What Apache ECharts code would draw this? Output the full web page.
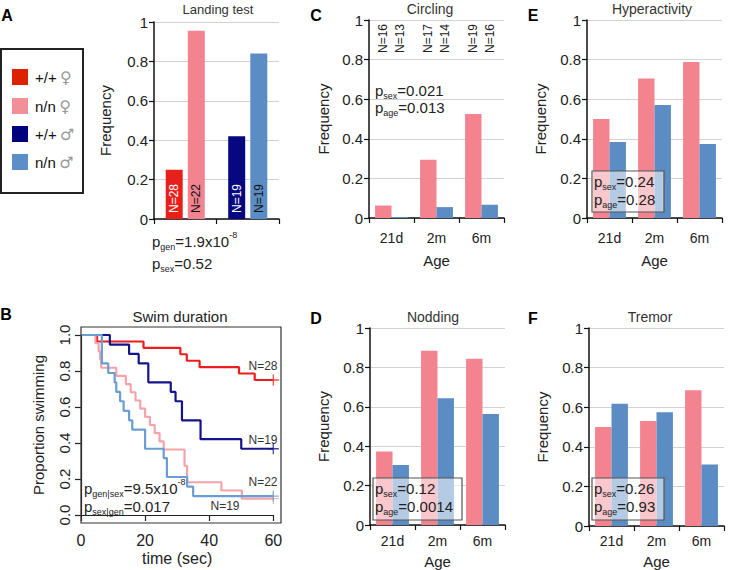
<!DOCTYPE html>
<html><head><meta charset="utf-8">
<script src="https://cdn.jsdelivr.net/npm/echarts@6/dist/echarts.min.js"></script>
<style>html,body{margin:0;padding:0;background:#fff;}#c{width:731px;height:570px;}</style>
</head><body><div id="c"></div>
<script>
// ---------- data ----------
const landingGroups = ['female', 'male'];
const landingWT = [0.25, 0.42];
const landingNN = [0.955, 0.84];
const landingNwt = ['N=28', 'N=19'];
const landingNnn = ['N=22', 'N=19'];

const ages = ['21d', '2m', '6m'];
const circlingFemale = [0.063, 0.294, 0.525];
const circlingMale = [0.005, 0.055, 0.067];
const circlingNFemale = ['N=16', 'N=17', 'N=19'];
const circlingNMale = ['N=13', 'N=14', 'N=16'];
const noddingFemale = [0.373, 0.885, 0.844];
const noddingMale = [0.305, 0.644, 0.563];
const hyperFemale = [0.5, 0.705, 0.788];
const hyperMale = [0.384, 0.571, 0.374];
const tremorFemale = [0.5, 0.53, 0.686];
const tremorMale = [0.618, 0.574, 0.31];

const swimWTfemale = [[0,1],[5,0.964],[19.5,0.929],[31,0.893],[33,0.857],[37,0.821],[49.3,0.786],[54.2,0.75],[60,0.75]];
const swimWTmale = [[0,1],[9,0.947],[15,0.895],[18,0.842],[21,0.737],[28,0.684],[29.5,0.632],[31.5,0.526],[37.3,0.421],[50,0.368],[60,0.368]];
const swimNNfemale = [[0,1],[4.5,0.955],[5.5,0.909],[6,0.864],[6.3,0.818],[11,0.773],[14,0.727],[15.5,0.682],[17,0.636],[18.5,0.591],[20,0.545],[21.5,0.5],[23,0.455],[24.5,0.409],[25.8,0.364],[32.3,0.273],[33.1,0.182],[43.8,0.136],[50.2,0.091],[60,0.091]];
const swimNNmale = [[0,1],[6.5,0.842],[8.5,0.789],[10.5,0.737],[11,0.684],[12.2,0.632],[13.3,0.579],[15,0.526],[16,0.474],[20,0.368],[25.8,0.316],[26.8,0.211],[33.1,0.158],[35,0.105],[60,0.105]];
const swimEndLabels = ['N=28', 'N=19', 'N=22', 'N=19'];

// ---------- styles ----------
const FONT = 'Liberation Sans, Arial, sans-serif';
const C_RED = '#e8201c', C_PINK = '#f2838f', C_NAVY = '#07077f', C_BLUE = '#5b8cc4';
const L_RED = '#ee1c1c', L_NAVY = '#14148a', L_PINK = '#f4a3ab', L_BLUE = '#6a9dd2';

const chart = echarts.init(document.getElementById('c'), null, {renderer: 'svg'});

function yFreq(grid, gap) {
  return {
    type: 'value', gridIndex: grid, min: 0, max: 1, interval: 0.2,
    axisLine: {show: true, lineStyle: {color: '#111', width: 1.5}},
    axisTick: {show: true, length: 5, lineStyle: {color: '#111', width: 1.2}},
    axisLabel: {fontSize: 15, color: '#222', margin: 6, fontFamily: FONT},
    splitLine: {show: true, lineStyle: {color: '#d2d2d2', width: 1}},
    name: 'Frequency', nameLocation: 'middle', nameGap: gap,
    nameTextStyle: {fontSize: 15, color: '#222', fontFamily: FONT}
  };
}
function xAge(grid, margin, gap) {
  return {
    type: 'category', gridIndex: grid, data: ages,
    axisLine: {show: true, lineStyle: {color: '#111', width: 1.5}},
    axisTick: {show: true, length: 5, lineStyle: {color: '#111', width: 1.2}},
    axisLabel: {fontSize: 14, color: '#222', margin: margin, fontFamily: FONT},
    splitLine: {show: false},
    name: 'Age', nameLocation: 'middle', nameGap: gap,
    nameTextStyle: {fontSize: 15, color: '#222', fontFamily: FONT}
  };
}
function barPair(axis, fem, mal, topLabels) {
  const base = {type: 'bar', xAxisIndex: axis, yAxisIndex: axis, barGap: 0, barCategoryGap: '27%'};
  const s1 = Object.assign({}, base, {name: 'nn_f_' + axis, data: fem, itemStyle: {color: C_PINK}});
  const s2 = Object.assign({}, base, {name: 'nn_m_' + axis, data: mal, itemStyle: {color: C_BLUE}});
  if (topLabels) {
    const lab = (arr) => ({
      show: true, rotate: 90, fontSize: 12, color: '#222', fontFamily: FONT,
      formatter: (p) => arr[p.dataIndex]
    });
    const lay = (p) => ({x: p.rect.x + p.rect.width / 2, y: 24, align: 'right', verticalAlign: 'middle'});
    s1.label = lab(topLabels[0]); s1.labelLayout = lay;
    s2.label = lab(topLabels[1]); s2.labelLayout = lay;
  }
  return [s1, s2];
}

function ptext(x, y, sub, rest, size, sup) {
  const fs = size || 14;
  let t = '{m|p}{s|' + sub + '}{m|' + rest + '}';
  if (sup) t += '{u|' + sup + '}';
  return {
    type: 'text', x: x, y: y, z: 110,
    style: {
      text: t, verticalAlign: 'middle', textVerticalAlign: 'middle', fill: '#222',
      rich: {
        m: {fontSize: fs, fontFamily: FONT, fill: '#222', lineHeight: fs + 6, verticalAlign: 'middle'},
        s: {fontSize: 9, fontFamily: FONT, fill: '#222', verticalAlign: 'bottom', lineHeight: fs + 6},
        u: {fontSize: 9, fontFamily: FONT, fill: '#222', verticalAlign: 'top', lineHeight: fs + 4}
      }
    }
  };
}
function txt(x, y, s, size, opts) {
  return {
    type: 'text', x: x, y: y, z: 110,
    style: Object.assign({text: s, fontSize: size, fontFamily: FONT, fill: '#222',
      align: 'center', textAlign: 'center', verticalAlign: 'middle', textVerticalAlign: 'middle'}, opts || {})
  };
}
function pbox(x, y, w, h) {
  return {type: 'rect', z: 100, shape: {x: x, y: y, width: w, height: h},
    style: {fill: 'rgba(255,255,255,0.55)', stroke: '#555', lineWidth: 1.2}};
}

const option = {
  backgroundColor: '#fff',
  animation: false,
  grid: [
    {left: 154, top: 22, width: 125, height: 197, containLabel: false, outerBoundsMode: 'none'},
    {left: 81, top: 335, width: 192.3, height: 180, containLabel: false, outerBoundsMode: 'none'},
    {left: 369, top: 20, width: 135, height: 198, containLabel: false, outerBoundsMode: 'none'},
    {left: 370, top: 328, width: 135, height: 197, containLabel: false, outerBoundsMode: 'none'},
    {left: 587, top: 20, width: 135, height: 198, containLabel: false, outerBoundsMode: 'none'},
    {left: 589, top: 328, width: 135, height: 198, containLabel: false, outerBoundsMode: 'none'}
  ],
  xAxis: [
    {type: 'category', gridIndex: 0, data: landingGroups,
      axisLine: {show: true, lineStyle: {color: '#111', width: 1.5}},
      axisTick: {show: true, length: 5, lineStyle: {color: '#111', width: 1.2}},
      axisLabel: {show: false}, splitLine: {show: false}},
    {type: 'value', gridIndex: 1, min: 0, max: 60, interval: 20, offset: 8,
      axisLine: {show: true, lineStyle: {color: '#222', width: 1.2}},
      axisTick: {show: true, length: 6, lineStyle: {color: '#222', width: 1.2}},
      axisLabel: {fontSize: 16, color: '#222', margin: 9, fontFamily: FONT},
      splitLine: {show: false},
      name: 'time (sec)', nameLocation: 'middle', nameGap: 27,
      nameTextStyle: {fontSize: 16, color: '#222', fontFamily: FONT}},
    xAge(2, 13, 35),
    xAge(3, 9, 29),
    xAge(4, 13, 35),
    xAge(5, 8, 28)
  ],
  yAxis: [
    yFreq(0, 41),
    {type: 'value', gridIndex: 1, min: 0, max: 1, interval: 0.2,
      axisLine: {show: true, lineStyle: {color: '#222', width: 1.2}},
      axisTick: {show: true, length: 6, lineStyle: {color: '#222', width: 1.2}},
      axisLabel: {fontSize: 15, color: '#222', margin: 9, rotate: 90, fontFamily: FONT,
        formatter: (v) => v.toFixed(1)},
      splitLine: {show: false},
      name: 'Proportion swimming', nameLocation: 'middle', nameGap: 35,
      nameTextStyle: {fontSize: 15, color: '#222', fontFamily: FONT}},
    yFreq(2, 38),
    yFreq(3, 39),
    yFreq(4, 39),
    yFreq(5, 39)
  ],
  series: [
    // Panel A
    {type: 'bar', name: 'wt', xAxisIndex: 0, yAxisIndex: 0, barWidth: 17, barGap: '30%',
      data: landingWT.map((v, i) => ({value: v, itemStyle: {color: i === 0 ? C_RED : C_NAVY}})),
      label: {show: true, position: 'insideBottom', rotate: 90, align: 'left', verticalAlign: 'middle',
        distance: 6, fontSize: 12, color: '#fff', fontFamily: FONT,
        formatter: (p) => landingNwt[p.dataIndex]}},
    {type: 'bar', name: 'nn', xAxisIndex: 0, yAxisIndex: 0, barWidth: 17, barGap: '30%',
      data: landingNN.map((v, i) => ({value: v, itemStyle: {color: i === 0 ? C_PINK : C_BLUE}})),
      label: {show: true, position: 'insideBottom', rotate: 90, align: 'left', verticalAlign: 'middle',
        distance: 6, fontSize: 12, color: '#111', fontFamily: FONT,
        formatter: (p) => landingNnn[p.dataIndex]}},
    // Panel B
    ...[[swimWTfemale, L_RED], [swimWTmale, L_NAVY], [swimNNfemale, L_PINK], [swimNNmale, L_BLUE]].map(([d, c], i) => ({
      type: 'line', name: 'swim' + i, xAxisIndex: 1, yAxisIndex: 1, step: 'end', data: d,
      symbol: 'none', lineStyle: {color: c, width: 2.2}, z: i === 3 ? 4 : 3
    })),
    {type: 'scatter', name: 'censor', xAxisIndex: 1, yAxisIndex: 1, z: 5,
      symbol: 'path://M-0.7,-6H0.7V-0.7H6V0.7H0.7V6H-0.7V0.7H-6V-0.7H-0.7Z', symbolSize: 11,
      data: [swimWTfemale, swimWTmale, swimNNfemale, swimNNmale].map((d, i) => ({
        value: d[d.length - 1], itemStyle: {color: [L_RED, L_NAVY, L_PINK, L_BLUE][i]}}))},
    // Panels C-F
    ...barPair(2, circlingFemale, circlingMale, [circlingNFemale, circlingNMale]),
    ...barPair(3, noddingFemale, noddingMale),
    ...barPair(4, hyperFemale, hyperMale),
    ...barPair(5, tremorFemale, tremorMale)
  ],
  graphic: [
    // panel letters
    txt(7, 15, 'A', 16, {fontWeight: 'bold', fill: '#000'}),
    txt(6, 314, 'B', 16, {fontWeight: 'bold', fill: '#000'}),
    txt(316, 15, 'C', 16, {fontWeight: 'bold', fill: '#000'}),
    txt(316, 318, 'D', 16, {fontWeight: 'bold', fill: '#000'}),
    txt(533, 15, 'E', 16, {fontWeight: 'bold', fill: '#000'}),
    txt(533, 318, 'F', 16, {fontWeight: 'bold', fill: '#000'}),
    // titles
    txt(218, 9, 'Landing test', 13, {fill: '#333'}),
    txt(180, 316, 'Swim duration', 15, {fill: '#222'}),
    txt(430, 9, 'Circling', 14, {fill: '#333'}),
    txt(433, 317, 'Nodding', 14, {fill: '#333'}),
    txt(652, 9, 'Hyperactivity', 14, {fill: '#333'}),
    txt(650, 317, 'Tremor', 14, {fill: '#333'}),
    // legend
    {type: 'rect', z: 100, shape: {x: 1, y: 49, width: 82, height: 144},
      style: {fill: '#fff', stroke: '#222', lineWidth: 2}},
    {type: 'rect', z: 101, shape: {x: 12, y: 69, width: 16, height: 16}, style: {fill: '#dd2200'}},
    {type: 'rect', z: 101, shape: {x: 12, y: 98, width: 16, height: 16}, style: {fill: '#f2909a'}},
    {type: 'rect', z: 101, shape: {x: 12, y: 126, width: 16, height: 16}, style: {fill: '#00007f'}},
    {type: 'rect', z: 101, shape: {x: 12, y: 154, width: 16, height: 16}, style: {fill: '#5c8fc8'}},
    ...[['+/+', '\u2640', 77], ['n/n', '\u2640', 106], ['+/+', '\u2642', 134], ['n/n', '\u2642', 162]].map(([g, s, y]) => ({
      type: 'text', x: 35, y: y, z: 102,
      style: {text: '{a|' + g + '} {b|' + s + '}', verticalAlign: 'middle', textVerticalAlign: 'middle',
        rich: {a: {fontSize: 15, fontFamily: FONT, fill: '#111'}, b: {fontSize: 16, fontFamily: 'DejaVu Sans', fill: '#999'}}}
    })),
    // panel A p values
    ptext(152, 241, 'gen', '=1.9x10', 15, '-8'),
    ptext(152, 263, 'sex', '=0.52', 15),
    // panel B box and texts
    {type: 'rect', z: 100, shape: {x: 81, y: 327, width: 200, height: 196},
      style: {fill: 'none', stroke: '#333', lineWidth: 1.2}},
    ptext(84, 488, 'gen|sex', '=9.5x10', 15, '-8'),
    ptext(84, 506, 'sex|gen', '=0.017', 15),
    txt(263, 366, swimEndLabels[0], 12, {fill: '#333'}),
    txt(263, 440, swimEndLabels[1], 12, {fill: '#333'}),
    txt(263, 482, swimEndLabels[2], 12, {fill: '#333'}),
    txt(225, 506, swimEndLabels[3], 12, {fill: '#333'}),
    // panel C p values
    ptext(375, 90, 'sex', '=0.021', 15),
    ptext(375, 107, 'age', '=0.013', 15),
    // panel D box
    pbox(373, 478, 89, 42),
    ptext(375, 488, 'sex', '=0.12', 15),
    ptext(375, 506, 'age', '=0.0014', 15),
    // panel E box
    pbox(592, 171, 72, 41),
    ptext(594, 181, 'sex', '=0.24', 15),
    ptext(594, 199, 'age', '=0.28', 15),
    // panel F box
    pbox(592, 478, 72, 42),
    ptext(594, 488, 'sex', '=0.26', 15),
    ptext(594, 506, 'age', '=0.93', 15)
  ]
};
chart.setOption(option);
</script>
</body></html>
